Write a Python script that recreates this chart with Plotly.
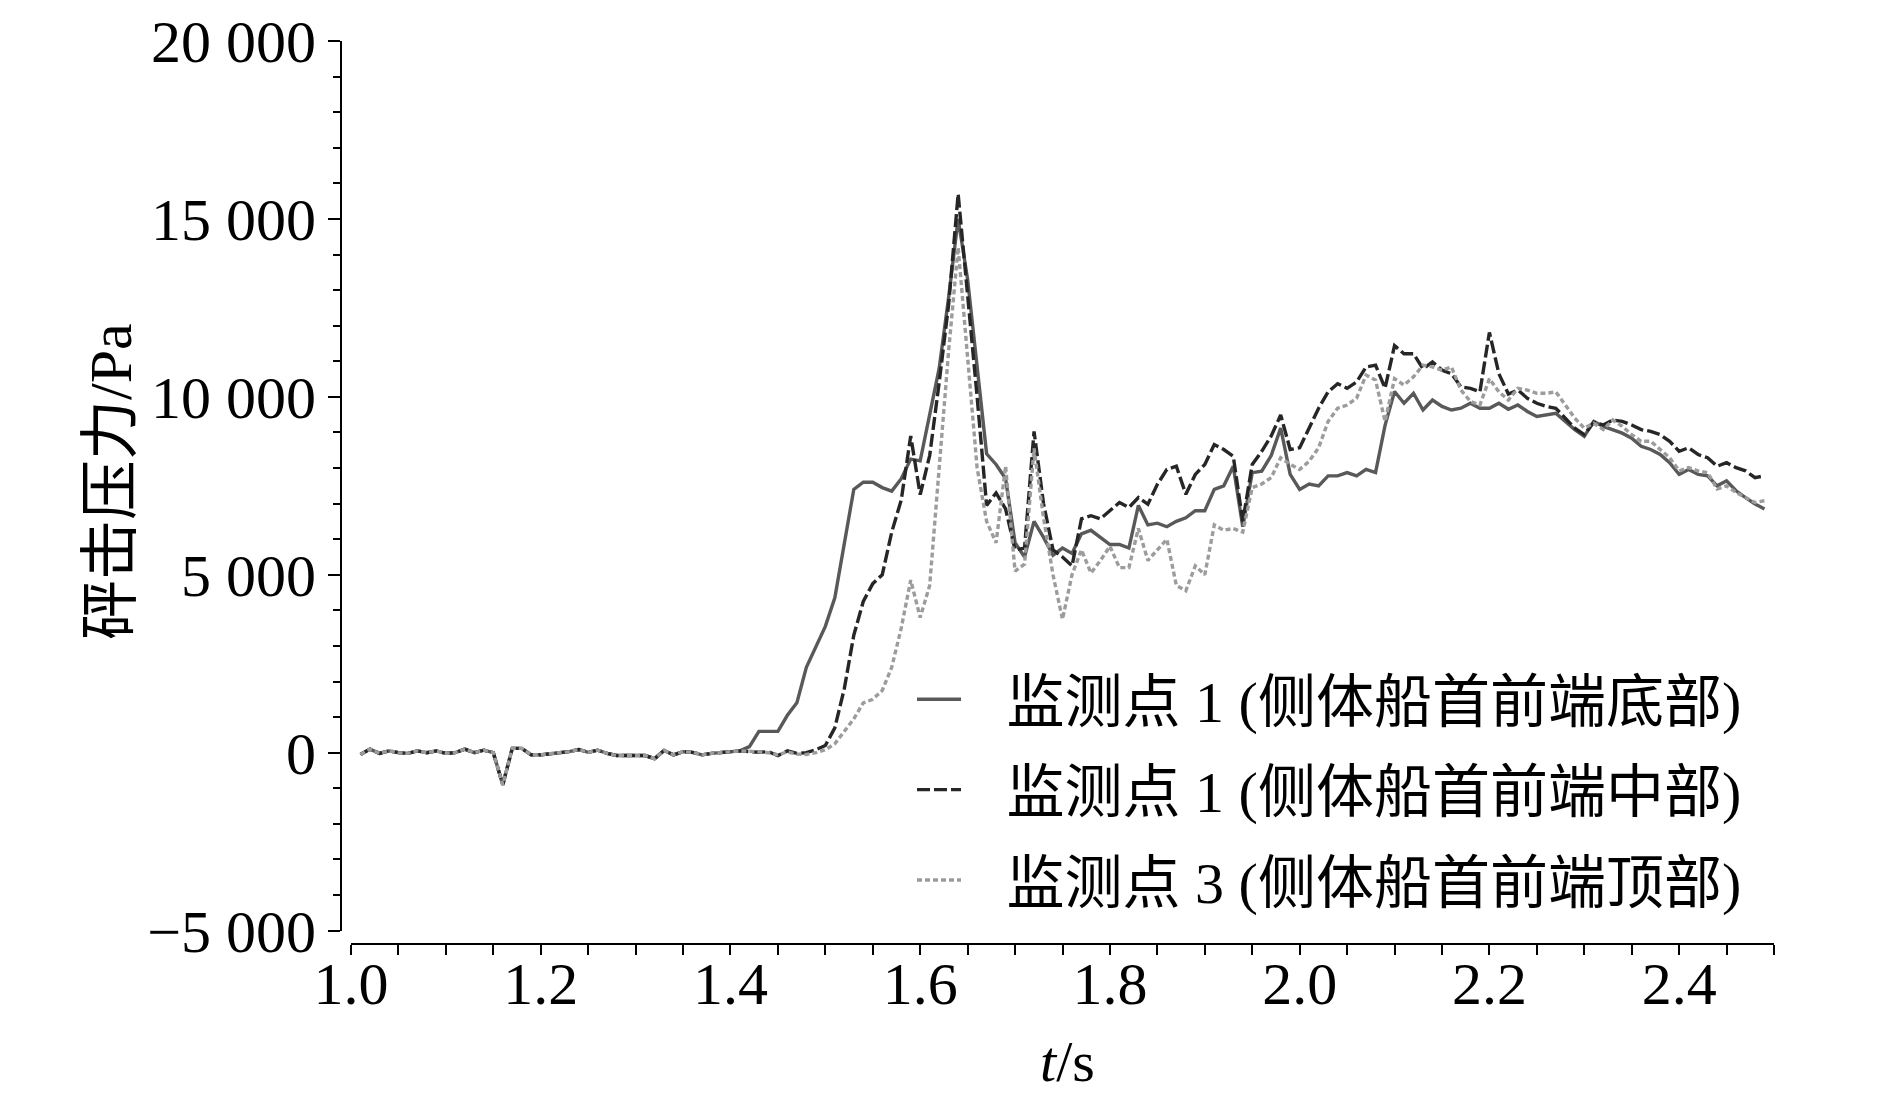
import plotly.graph_objects as go

# time samples (s)
T = [1.01, 1.02, 1.03, 1.04, 1.05, 1.06, 1.07, 1.08, 1.09, 1.10,
     1.11, 1.12, 1.13, 1.14, 1.15, 1.16, 1.17, 1.18, 1.19, 1.20,
     1.21, 1.22, 1.23, 1.24, 1.25, 1.26, 1.27, 1.28, 1.29, 1.30,
     1.31, 1.32, 1.33, 1.34, 1.35, 1.36, 1.37, 1.38, 1.39, 1.40,
     1.41, 1.42, 1.43, 1.44, 1.45, 1.46, 1.47, 1.48, 1.49, 1.50,
     1.51, 1.52, 1.53, 1.54, 1.55, 1.56, 1.57, 1.58, 1.59, 1.60,
     1.61, 1.62, 1.63, 1.64, 1.65, 1.66, 1.67, 1.68, 1.69, 1.70,
     1.71, 1.72, 1.73, 1.74, 1.75, 1.76, 1.77, 1.78, 1.79, 1.80,
     1.81, 1.82, 1.83, 1.84, 1.85, 1.86, 1.87, 1.88, 1.89, 1.90,
     1.91, 1.92, 1.93, 1.94, 1.95, 1.96, 1.97, 1.98, 1.99, 2.00,
     2.01, 2.02, 2.03, 2.04, 2.05, 2.06, 2.07, 2.08, 2.09, 2.10,
     2.11, 2.12, 2.13, 2.14, 2.15, 2.16, 2.17, 2.18, 2.19, 2.20,
     2.21, 2.22, 2.23, 2.24, 2.25, 2.26, 2.27, 2.28, 2.29, 2.30,
     2.31, 2.32, 2.33, 2.34, 2.35, 2.36, 2.37, 2.38, 2.39, 2.40,
     2.41, 2.42, 2.43, 2.44, 2.45, 2.46, 2.47, 2.48, 2.49]

# common pre-impact part 1.01 - 1.41 s (Pa)
BASE = [-50, 100, -20, 50, 0, -20, 50, 0, 50, -20,
        0, 100, 0, 70, 0, -900, 120, 120, -60, -60,
        -30, 0, 30, 90, 10, 70, -20, -80, -80, -80,
        -80, -170, 60, -60, 30, 10, -60, -20, 0, 10,
        50]

# 1.42 - 2.49 s
BOTTOM = [170, 600, 600, 600, 1050, 1400, 2400, 2950,
          3550, 4350, 5900, 7400, 7600, 7600, 7450, 7350, 7700, 8250,
          8200, 9500, 10800, 12800, 15000, 13300, 10900, 8400, 8100, 7700,
          5900, 5500, 6500, 6050, 5550, 5750, 5600, 6150, 6250, 6050,
          5850, 5850, 5750, 6950, 6400, 6450, 6350, 6500, 6600, 6800,
          6800, 7400, 7500, 8050, 6350, 7870, 7910, 8350, 9120, 7820,
          7400, 7550, 7500, 7780, 7780, 7870, 7780, 7960, 7870, 9200,
          10150, 9820, 10100, 9630, 9910, 9730, 9630, 9680, 9820, 9680,
          9680, 9820, 9650, 9770, 9590, 9450, 9490, 9540, 9310, 9080,
          8890, 9310, 9170, 9080, 8980, 8840, 8610, 8520, 8380, 8150,
          7820, 7960, 7820, 7780, 7500, 7640, 7360, 7170, 6990, 6850]

MIDDLE = [30, 10, 30, -80, 50, -20, 0, 80,
          200, 700, 1800, 3300, 4250, 4750, 5000, 6200, 7100, 8900,
          7250, 8350, 10400, 12600, 15700, 12900, 10000, 6950, 7300, 6850,
          5700, 5750, 9030, 7000, 5700, 5500, 5250, 6570, 6660, 6570,
          6800, 7030, 6890, 7170, 6980, 7540, 7960, 8050, 7260, 7820,
          8100, 8660, 8520, 8330, 6500, 8100, 8470, 8900, 9490, 8520,
          8570, 9120, 9680, 10140, 10370, 10240, 10420, 10840, 10890, 10240,
          11440, 11210, 11210, 10790, 10980, 10750, 10650, 10280, 10240, 10140,
          11810, 10650, 10080, 10190, 9960, 9820, 9730, 9680, 9400, 9120,
          8940, 9290, 9210, 9350, 9310, 9210, 9080, 9030, 8940, 8750,
          8470, 8570, 8380, 8290, 8050, 8150, 8010, 7920, 7730, 7780]

TOP = [40, 20, 0, -60, 20, -40, -50, 0,
       80, 250, 600, 950, 1400, 1500, 1750, 2400, 3500, 4850,
       3800, 4700, 8000, 11300, 14200, 11000, 8000, 6500, 5900, 8050,
       5100, 5300, 8550, 6600, 5000, 3750, 5000, 5700, 5050, 5400,
       5800, 5200, 5200, 6300, 5400, 5700, 6000, 4700, 4550, 5250,
       5000, 6400, 6250, 6300, 6200, 7450, 7550, 7730, 8290, 8100,
       7960, 8190, 8570, 9310, 9680, 9770, 9960, 10610, 10470, 9310,
       10510, 10330, 10560, 10890, 10840, 10750, 10840, 10190, 9870, 9770,
       10510, 10140, 9910, 10240, 10190, 10100, 10100, 10140, 9770, 9400,
       9120, 9260, 9080, 9350, 9170, 8940, 8750, 8750, 8520, 8290,
       7920, 8010, 7920, 7870, 7410, 7500, 7310, 7170, 7030, 7080]

NAMES = ["监测点 1 (侧体船首前端底部)",
         "监测点 1 (侧体船首前端中部)",
         "监测点 3 (侧体船首前端顶部)"]

X_TICKS = [1.0, 1.2, 1.4, 1.6, 1.8, 2.0, 2.2, 2.4]
X_LABELS = ["1.0", "1.2", "1.4", "1.6", "1.8", "2.0", "2.2", "2.4"]
Y_TICKS = [-5000, 0, 5000, 10000, 15000, 20000]
Y_LABELS = ["\u22125 000", "0", "5 000", "10 000", "15 000", "20 000"]

SERIF = "Liberation Serif, 'Times New Roman', 'Noto Sans CJK SC', serif"
LEAD = "\u2002\u2009"  # gap between legend sample and its label

series = [
    (BASE + BOTTOM, NAMES[0], "#595959", "solid"),
    (BASE + MIDDLE, NAMES[1], "#262626", "13px,4px"),
    (BASE + TOP, NAMES[2], "#9c9c9c", "5px,3px"),
]

fig = go.Figure()
for i, (vals, name, color, dash) in enumerate(series):
    fig.add_trace(go.Scatter(
        x=T, y=vals, name=LEAD + name, mode="lines",
        legendgroup="g%d" % i,
        line=dict(color=color, width=3.4, dash=dash),
    ))

# page body has an 8 px margin; layout numbers are in figure pixels
W_L, W_R, TOP_M, BOT_M = 333, 124, 33, 165
pw = 1890 - W_L - W_R
ph = 1101 - TOP_M - BOT_M
PB = 1101 - BOT_M  # plot-area bottom in figure px


def px(xf):
    return (xf - W_L) / pw


def py(yf):
    return (PB - yf) / ph


fig.update_layout(
    width=1890, height=1101,
    margin=dict(l=W_L, r=W_R, t=TOP_M, b=BOT_M, pad=0),
    paper_bgcolor="white", plot_bgcolor="white",
    font=dict(family=SERIF, color="black"),
    showlegend=True,
    legend=dict(
        x=px(904), y=py(647),
        xanchor="left", yanchor="top",
        font=dict(family=SERIF, size=58, color="black"),
        bgcolor="rgba(0,0,0,0)", tracegroupgap=12,
        itemwidth=44,
    ),
    xaxis=dict(
        domain=[10 / pw, 1], range=[1.0, 2.5],
        anchor="free", position=0, automargin=False,
        showline=True, linecolor="black", linewidth=2,
        showgrid=False, zeroline=False,
        tickmode="array", tickvals=X_TICKS, ticktext=X_LABELS,
        ticks="outside", ticklen=10, tickwidth=2, tickcolor="black",
        ticklabelstandoff=-23, ticklabeloverflow="allow",
        tickfont=dict(family=SERIF, size=60, color="black"),
        minor=dict(tickmode="linear", tick0=1.0, dtick=0.05, ticks="outside",
                   ticklen=10, tickwidth=2, tickcolor="black"),
    ),
    yaxis=dict(
        domain=[13.4 / ph, 1], range=[-5000, 20000],
        anchor="free", position=0, automargin=False,
        showline=True, linecolor="black", linewidth=2,
        showgrid=False, zeroline=False,
        tickmode="array", tickvals=Y_TICKS, ticktext=Y_LABELS,
        ticks="outside", ticklen=12, tickwidth=2, tickcolor="black",
        ticklabeloverflow="allow",
        tickfont=dict(family=SERIF, size=60, color="black"),
        minor=dict(tickmode="linear", tick0=0, dtick=1000, ticks="outside",
                   ticklen=7, tickwidth=2, tickcolor="black"),
    ),
    annotations=[
        dict(text="砰击压力/Pa", textangle=-90, xref="paper", yref="paper",
             x=px(103), y=py(474),
             xanchor="center", yanchor="middle", showarrow=False,
             font=dict(family=SERIF, size=60, color="black")),
        dict(text="<i>t</i>/s", xref="paper", yref="paper",
             x=px(1059), y=py(1053),
             xanchor="center", yanchor="middle", showarrow=False,
             font=dict(family=SERIF, size=58, color="black")),
    ],
)

fig.write_html("out.html")
